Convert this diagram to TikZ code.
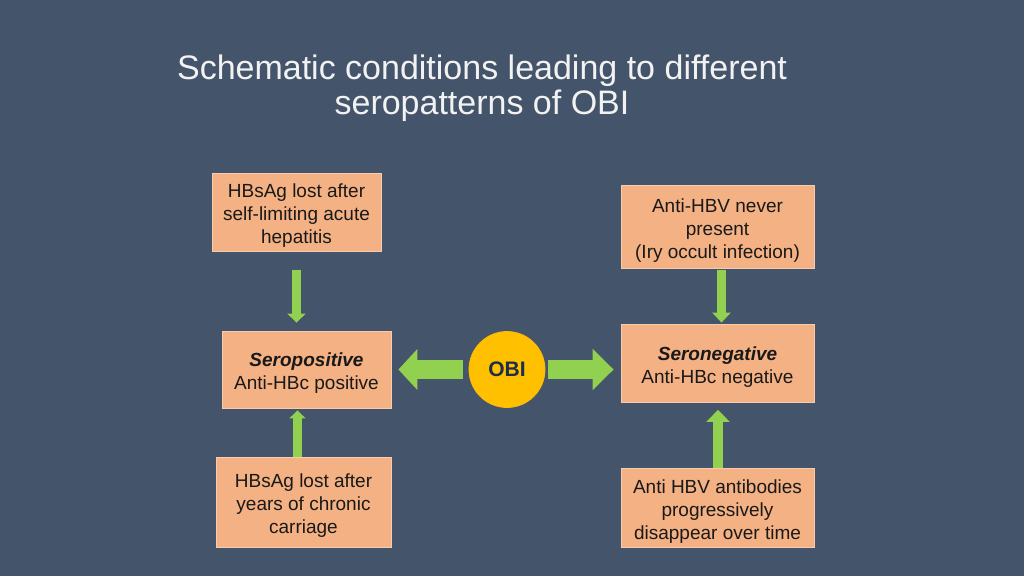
\documentclass[tikz,border=0pt]{standalone}
\usepackage{fontspec}
\setmainfont{Liberation Sans}
\usepackage{xcolor}
\usetikzlibrary{arrows.meta}
\definecolor{slate}{HTML}{44546A}
\definecolor{salmon}{HTML}{F4B183}
\definecolor{salmonedge}{HTML}{F8CBAD}
\definecolor{gold}{HTML}{FFC000}
\definecolor{leaf}{HTML}{92D050}
\definecolor{navy}{HTML}{1F2D4D}
\newcommand{\lift}{\rule{0pt}{21pt}}

\begin{document}
\begin{tikzpicture}[x=1pt,y=-1pt,
   box/.style={draw=salmonedge,line width=0.8pt,fill=salmon,align=center,inner sep=0pt,
      font=\fontsize{19}{23}\selectfont,text=black!90},
   flow/.style={draw=leaf,line width=#1}]
   \useasboundingbox[fill=slate] (0,0) rectangle (1024,576);
   \node[align=center,text=white!95!black,font=\fontsize{34}{35}\selectfont] (title) at (482,88.5)
      {Schematic conditions leading to different\\seropatterns of OBI};
   \node[box,minimum width=169pt,minimum height=78pt] (acute) at (296.5,212)
      {\lift HBsAg lost after\\self-limiting acute\\hepatitis};
   \node[box,minimum width=193pt,minimum height=83pt] (never) at (717.5,226.5)
      {\lift Anti-HBV never\\present\\(Iry occult infection)};
   \node[box,minimum width=169pt,minimum height=77pt] (seropos) at (306.5,369.5)
      {\lift\textbf{\textit{Seropositive}}\\Anti-HBc positive};
   \node[box,minimum width=193pt,minimum height=78pt] (seroneg) at (717.5,363.5)
      {\lift\textbf{\textit{Seronegative}}\\Anti-HBc negative};
   \node[box,minimum width=175pt,minimum height=90pt] (chronic) at (303.5,502)
      {\lift HBsAg lost after\\years of chronic\\carriage};
   \node[box,minimum width=193pt,minimum height=79pt] (fading) at (717.5,508)
      {\lift Anti HBV antibodies\\progressively\\disappear over time};
   \node[circle,draw=gold!90!orange,line width=0.8pt,fill=gold,minimum size=76pt,inner sep=0pt,
      text=navy,font=\fontsize{21}{24}\selectfont\bfseries] (obi) at (507,369.5) {OBI};
   % vertical arrows
   \draw[flow=9pt,-{Triangle[length=9pt,width=18pt]},shorten <=19pt,shorten >=8pt]
      (acute.south) -- (acute.south |- seropos.north);
   \draw[flow=9pt,-{Triangle[length=10pt,width=18pt]},shorten <=2pt,shorten >=1.5pt]
      ([xshift=4pt]never.south) -- ([xshift=4pt]never.south |- seroneg.north);
   \draw[flow=9pt,-{Triangle[length=8pt,width=16pt]},shorten >=2pt]
      ([xshift=-6pt]chronic.north) -- ([xshift=-6pt]chronic.north |- seropos.south);
   \draw[flow=10pt,-{Triangle[length=12pt,width=23pt]},shorten >=7pt]
      ([xshift=0.5pt]fading.north) -- ([xshift=0.5pt]fading.north |- seroneg.south);
   % horizontal arrows
   \draw[flow=19pt,-{Triangle[length=19pt,width=40pt]},shorten <=6pt,shorten >=7pt]
      (obi.west) -- (obi.west -| seropos.east);
   \draw[flow=19pt,-{Triangle[length=21pt,width=40pt]},shorten <=3pt,shorten >=7pt]
      (obi.east) -- (obi.east -| seroneg.west);
\end{tikzpicture}
\end{document}
